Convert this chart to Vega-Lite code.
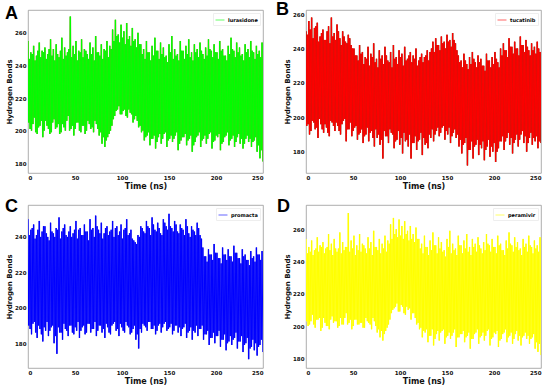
{
"$schema":"https://vega.github.io/schema/vega-lite/v6.json",
"padding":{"left":4,"top":0,"right":0,"bottom":0},
"config":{
 "view":{"stroke":"#999","strokeWidth":0.8},
 "axis":{"labelFont":"DejaVu Sans","labelFontWeight":"bold","labelFontSize":5.5,"titleFont":"DejaVu Sans","titleFontWeight":"bold","grid":false,"domain":false,"ticks":false,"labelColor":"#111","titleColor":"#111","labelPadding":2},
 "axisY":{"titleFontSize":7,"titlePadding":2},
 "axisX":{"titleFontSize":8,"titlePadding":2},
 "legend":{"orient":"top-right","offset":3,"padding":2,"fillColor":"white","strokeColor":"#eee","labelFont":"DejaVu Sans","labelFontWeight":"bold","labelFontSize":5,"symbolType":"stroke","symbolSize":80,"symbolStrokeWidth":1,"symbolOpacity":0.6,"labelOffset":3},
 "title":{"font":"Liberation Sans","fontSize":18,"fontWeight":"bold","anchor":"start","frame":"group","color":"#000"}
},
"datasets":{"hb":[
{"t":0,"a":255,"b":250,"c":250,"d":254},{"t":0.75,"a":205,"b":195,"c":190,"d":203},{"t":1.5,"a":244,"b":248,"c":241,"d":245},{"t":2.25,"a":201,"b":196,"c":188,"d":200},
{"t":3,"a":248,"b":256,"c":244,"d":249},{"t":3.75,"a":200,"b":190,"c":185,"d":201},{"t":4.5,"a":247,"b":251,"c":245,"d":246},{"t":5.25,"a":204,"b":192,"c":191,"d":203},
{"t":6,"a":252,"b":258,"c":247,"d":253},{"t":6.75,"a":208,"b":198,"c":192,"d":207},{"t":7.5,"a":243,"b":246,"c":239,"d":244},{"t":8.25,"a":199,"b":197,"c":186,"d":201},
{"t":9,"a":246,"b":252,"c":241,"d":247},{"t":9.75,"a":198,"b":193,"c":183,"d":199},{"t":10.5,"a":249,"b":253,"c":244,"d":248},{"t":11.25,"a":202,"b":194,"c":190,"d":204},
{"t":12,"a":254,"b":255,"c":249,"d":255},{"t":12.75,"a":203,"b":188,"c":188,"d":204},{"t":13.5,"a":245,"b":244,"c":240,"d":246},{"t":14.25,"a":206,"b":199,"c":185,"d":205},
{"t":15,"a":249,"b":247,"c":243,"d":250},{"t":15.75,"a":196,"b":196,"c":181,"d":197},{"t":16.5,"a":248,"b":249,"c":246,"d":249},{"t":17.25,"a":200,"b":193,"c":189,"d":199},
{"t":18,"a":251,"b":251,"c":246,"d":252},{"t":18.75,"a":206,"b":191,"c":187,"d":205},{"t":19.5,"a":244,"b":245,"c":242,"d":245},{"t":20.25,"a":203,"b":196,"c":192,"d":202},
{"t":21,"a":247,"b":245,"c":240,"d":248},{"t":21.75,"a":201,"b":194,"c":184,"d":200},{"t":22.5,"a":250,"b":250,"c":238,"d":249},{"t":23.25,"a":198,"b":191,"c":187,"d":200},
{"t":24,"a":256,"b":253,"c":248,"d":257},{"t":24.75,"a":199,"b":189,"c":189,"d":198},{"t":25.5,"a":246,"b":243,"c":243,"d":247},{"t":26.25,"a":205,"b":198,"c":190,"d":204},
{"t":27,"a":250,"b":258,"c":242,"d":251},{"t":27.75,"a":207,"b":197,"c":180,"d":206},{"t":28.5,"a":243,"b":247,"c":240,"d":244},{"t":29.25,"a":201,"b":195,"c":184,"d":202},
{"t":30,"a":253,"b":249,"c":245,"d":254},{"t":30.75,"a":202,"b":192,"c":174,"d":203},{"t":31.5,"a":247,"b":245,"c":244,"d":248},{"t":32.25,"a":204,"b":197,"c":189,"d":203},
{"t":33,"a":245,"b":254,"c":251,"d":246},{"t":33.75,"a":198,"b":195,"c":186,"d":199},{"t":34.5,"a":249,"b":250,"c":239,"d":248},{"t":35.25,"a":199,"b":192,"c":186,"d":200},
{"t":36,"a":257,"b":246,"c":243,"d":258},{"t":36.75,"a":204,"b":190,"c":182,"d":205},{"t":37.5,"a":244,"b":242,"c":245,"d":245},{"t":38.25,"a":202,"b":196,"c":191,"d":201},
{"t":39,"a":251,"b":250,"c":247,"d":252},{"t":39.75,"a":200,"b":198,"c":188,"d":201},{"t":40.5,"a":246,"b":247,"c":241,"d":247},{"t":41.25,"a":206,"b":199,"c":187,"d":205},
{"t":42,"a":248,"b":244,"c":240,"d":249},{"t":42.75,"a":209,"b":186,"c":184,"d":208},{"t":43.5,"a":250,"b":243,"c":243,"d":249},{"t":44.25,"a":200,"b":193,"c":190,"d":201},
{"t":45,"a":270,"b":248,"c":246,"d":270},{"t":45.75,"a":201,"b":193,"c":190,"d":202},{"t":46.5,"a":245,"b":246,"c":240,"d":246},{"t":47.25,"a":203,"b":197,"c":186,"d":204},
{"t":48,"a":252,"b":242,"c":242,"d":253},{"t":48.75,"a":197,"b":189,"c":185,"d":198},{"t":49.5,"a":247,"b":240,"c":244,"d":248},{"t":50.25,"a":201,"b":192,"c":189,"d":200},
{"t":51,"a":255,"b":240,"c":249,"d":256},{"t":51.75,"a":205,"b":194,"c":187,"d":204},{"t":52.5,"a":243,"b":236,"c":239,"d":244},{"t":53.25,"a":205,"b":195,"c":192,"d":204},
{"t":54,"a":249,"b":236,"c":244,"d":250},{"t":54.75,"a":200,"b":187,"c":183,"d":201},{"t":55.5,"a":248,"b":233,"c":245,"d":247},{"t":56.25,"a":199,"b":190,"c":187,"d":201},
{"t":57,"a":256,"b":242,"c":241,"d":257},{"t":57.75,"a":203,"b":191,"c":189,"d":202},{"t":58.5,"a":245,"b":237,"c":241,"d":246},{"t":59.25,"a":203,"b":193,"c":190,"d":202},
{"t":60,"a":250,"b":238,"c":247,"d":251},{"t":60.75,"a":198,"b":185,"c":185,"d":199},{"t":61.5,"a":249,"b":231,"c":243,"d":250},{"t":62.25,"a":200,"b":189,"c":186,"d":199},
{"t":63,"a":247,"b":235,"c":243,"d":248},{"t":63.75,"a":206,"b":190,"c":191,"d":205},{"t":64.5,"a":244,"b":234,"c":238,"d":245},{"t":65.25,"a":204,"b":194,"c":191,"d":203},
{"t":66,"a":254,"b":241,"c":250,"d":255},{"t":66.75,"a":201,"b":186,"c":186,"d":202},{"t":67.5,"a":247,"b":230,"c":244,"d":248},{"t":68.25,"a":202,"b":191,"c":188,"d":201},
{"t":69,"a":251,"b":237,"c":245,"d":252},{"t":69.75,"a":199,"b":192,"c":188,"d":198},{"t":70.5,"a":243,"b":235,"c":240,"d":244},{"t":71.25,"a":206,"b":188,"c":192,"d":205},
{"t":72,"a":258,"b":243,"c":252,"d":259},{"t":72.75,"a":204,"b":183,"c":184,"d":203},{"t":73.5,"a":248,"b":232,"c":246,"d":249},{"t":74.25,"a":201,"b":193,"c":187,"d":200},
{"t":75,"a":248,"b":234,"c":244,"d":249},{"t":75.75,"a":197,"b":188,"c":190,"d":196},{"t":76.5,"a":246,"b":229,"c":242,"d":247},{"t":77.25,"a":199,"b":190,"c":190,"d":198},
{"t":78,"a":253,"b":239,"c":248,"d":254},{"t":78.75,"a":192,"b":184,"c":186,"d":193},{"t":79.5,"a":244,"b":234,"c":239,"d":245},{"t":80.25,"a":196,"b":187,"c":188,"d":197},
{"t":81,"a":250,"b":236,"c":242,"d":251},{"t":81.75,"a":190,"b":176,"c":183,"d":191},{"t":82.5,"a":249,"b":231,"c":245,"d":248},{"t":83.25,"a":194,"b":192,"c":191,"d":195},
{"t":84,"a":255,"b":241,"c":246,"d":256},{"t":84.75,"a":196,"b":189,"c":189,"d":197},{"t":85.5,"a":245,"b":236,"c":241,"d":246},{"t":86.25,"a":198,"b":189,"c":186,"d":199},
{"t":87,"a":252,"b":233,"c":243,"d":253},{"t":87.75,"a":200,"b":185,"c":185,"d":201},{"t":88.5,"a":250,"b":232,"c":244,"d":251},{"t":89.25,"a":203,"b":193,"c":190,"d":204},
{"t":90,"a":262,"b":238,"c":249,"d":263},{"t":90.75,"a":207,"b":191,"c":191,"d":208},{"t":91.5,"a":255,"b":229,"c":240,"d":254},{"t":92.25,"a":209,"b":190,"c":192,"d":210},
{"t":93,"a":268,"b":242,"c":245,"d":267},{"t":93.75,"a":212,"b":182,"c":187,"d":211},{"t":94.5,"a":258,"b":234,"c":246,"d":257},{"t":95.25,"a":213,"b":186,"c":188,"d":212},
{"t":96,"a":259,"b":235,"c":241,"d":260},{"t":96.75,"a":215,"b":187,"c":184,"d":214},{"t":97.5,"a":254,"b":231,"c":243,"d":255},{"t":98.25,"a":210,"b":192,"c":191,"d":209},
{"t":99,"a":265,"b":239,"c":247,"d":266},{"t":99.75,"a":210,"b":184,"c":189,"d":209},{"t":100.5,"a":257,"b":235,"c":239,"d":256},{"t":101.25,"a":212,"b":188,"c":187,"d":213},
{"t":102,"a":261,"b":237,"c":244,"d":262},{"t":102.75,"a":213,"b":179,"c":186,"d":212},{"t":103.5,"a":253,"b":230,"c":245,"d":254},{"t":104.25,"a":209,"b":191,"c":192,"d":208},
{"t":105,"a":266,"b":241,"c":250,"d":265},{"t":105.75,"a":208,"b":186,"c":190,"d":207},{"t":106.5,"a":256,"b":233,"c":241,"d":257},{"t":107.25,"a":213,"b":187,"c":189,"d":212},
{"t":108,"a":258,"b":234,"c":242,"d":259},{"t":108.75,"a":211,"b":183,"c":185,"d":210},{"t":109.5,"a":252,"b":236,"c":244,"d":253},{"t":110.25,"a":210,"b":190,"c":186,"d":211},
{"t":111,"a":263,"b":238,"c":239,"d":262},{"t":111.75,"a":205,"b":176,"c":188,"d":204},{"t":112.5,"a":255,"b":232,"c":238,"d":254},{"t":113.25,"a":207,"b":185,"c":190,"d":208},
{"t":114,"a":256,"b":236,"c":237,"d":257},{"t":114.75,"a":209,"b":185,"c":182,"d":208},{"t":115.5,"a":251,"b":234,"c":236,"d":252},{"t":116.25,"a":206,"b":189,"c":185,"d":205},
{"t":117,"a":260,"b":240,"c":241,"d":261},{"t":117.75,"a":202,"b":181,"c":177,"d":201},{"t":118.5,"a":253,"b":230,"c":240,"d":254},{"t":119.25,"a":203,"b":186,"c":188,"d":202},
{"t":120,"a":253,"b":233,"c":246,"d":254},{"t":120.75,"a":199,"b":187,"c":186,"d":198},{"t":121.5,"a":247,"b":235,"c":245,"d":248},{"t":122.25,"a":200,"b":191,"c":191,"d":199},
{"t":123,"a":250,"b":237,"c":243,"d":251},{"t":123.75,"a":194,"b":178,"c":190,"d":193},{"t":124.5,"a":244,"b":232,"c":242,"d":245},{"t":125.25,"a":196,"b":188,"c":189,"d":197},
{"t":126,"a":255,"b":235,"c":249,"d":256},{"t":126.75,"a":197,"b":184,"c":187,"d":196},{"t":127.5,"a":248,"b":236,"c":246,"d":249},{"t":128.25,"a":199,"b":185,"c":192,"d":198},
{"t":129,"a":248,"b":239,"c":245,"d":249},{"t":129.75,"a":191,"b":182,"c":192,"d":190},{"t":130.5,"a":243,"b":233,"c":241,"d":244},{"t":131.25,"a":195,"b":190,"c":188,"d":194},
{"t":132,"a":252,"b":238,"c":251,"d":253},{"t":132.75,"a":195,"b":188,"c":188,"d":194},{"t":133.5,"a":246,"b":240,"c":247,"d":247},{"t":134.25,"a":197,"b":193,"c":190,"d":198},
{"t":135,"a":257,"b":244,"c":244,"d":258},{"t":135.75,"a":189,"b":186,"c":185,"d":188},{"t":136.5,"a":249,"b":238,"c":243,"d":250},{"t":137.25,"a":193,"b":190,"c":187,"d":192},
{"t":138,"a":249,"b":246,"c":248,"d":250},{"t":138.75,"a":196,"b":192,"c":190,"d":195},{"t":139.5,"a":244,"b":242,"c":245,"d":245},{"t":140.25,"a":198,"b":194,"c":191,"d":197},
{"t":141,"a":254,"b":242,"c":242,"d":255},{"t":141.75,"a":192,"b":189,"c":186,"d":191},{"t":142.5,"a":247,"b":239,"c":241,"d":248},{"t":143.25,"a":195,"b":191,"c":189,"d":196},
{"t":144,"a":251,"b":247,"c":250,"d":252},{"t":144.75,"a":198,"b":194,"c":191,"d":197},{"t":145.5,"a":245,"b":243,"c":248,"d":246},{"t":146.25,"a":199,"b":195,"c":192,"d":198},
{"t":147,"a":246,"b":244,"c":246,"d":247},{"t":147.75,"a":190,"b":187,"c":187,"d":189},{"t":148.5,"a":242,"b":240,"c":244,"d":243},{"t":149.25,"a":194,"b":192,"c":188,"d":193},
{"t":150,"a":253,"b":248,"c":253,"d":254},{"t":150.75,"a":195,"b":190,"c":189,"d":194},{"t":151.5,"a":248,"b":244,"c":246,"d":249},{"t":152.25,"a":197,"b":194,"c":191,"d":196},
{"t":153,"a":258,"b":245,"c":245,"d":259},{"t":153.75,"a":193,"b":185,"c":185,"d":192},{"t":154.5,"a":244,"b":241,"c":243,"d":245},{"t":155.25,"a":195,"b":189,"c":187,"d":194},
{"t":156,"a":250,"b":249,"c":249,"d":251},{"t":156.75,"a":197,"b":191,"c":190,"d":196},{"t":157.5,"a":246,"b":245,"c":247,"d":247},{"t":158.25,"a":199,"b":193,"c":190,"d":198},
{"t":159,"a":247,"b":243,"c":243,"d":248},{"t":159.75,"a":188,"b":188,"c":186,"d":187},{"t":160.5,"a":243,"b":239,"c":242,"d":244},{"t":161.25,"a":192,"b":190,"c":189,"d":193},
{"t":162,"a":255,"b":236,"c":247,"d":256},{"t":162.75,"a":194,"b":183,"c":184,"d":193},{"t":163.5,"a":249,"b":232,"c":245,"d":250},{"t":164.25,"a":196,"b":187,"c":188,"d":195},
{"t":165,"a":249,"b":233,"c":244,"d":250},{"t":165.75,"a":196,"b":179,"c":189,"d":195},{"t":166.5,"a":244,"b":229,"c":241,"d":245},{"t":167.25,"a":198,"b":184,"c":191,"d":197},
{"t":168,"a":252,"b":237,"c":250,"d":253},{"t":168.75,"a":191,"b":185,"c":183,"d":190},{"t":169.5,"a":247,"b":233,"c":246,"d":248},{"t":170.25,"a":194,"b":188,"c":186,"d":193},
{"t":171,"a":256,"b":231,"c":242,"d":257},{"t":171.75,"a":195,"b":172,"c":187,"d":194},{"t":172.5,"a":245,"b":228,"c":240,"d":246},{"t":173.25,"a":197,"b":181,"c":189,"d":196},
{"t":174,"a":248,"b":235,"c":246,"d":249},{"t":174.75,"a":187,"b":181,"c":182,"d":186},{"t":175.5,"a":243,"b":231,"c":244,"d":244},{"t":176.25,"a":191,"b":186,"c":187,"d":192},
{"t":177,"a":253,"b":238,"c":243,"d":254},{"t":177.75,"a":193,"b":176,"c":186,"d":192},{"t":178.5,"a":248,"b":234,"c":241,"d":249},{"t":179.25,"a":196,"b":183,"c":190,"d":195},
{"t":180,"a":250,"b":232,"c":248,"d":251},{"t":180.75,"a":197,"b":184,"c":184,"d":196},{"t":181.5,"a":245,"b":229,"c":245,"d":246},{"t":182.25,"a":199,"b":187,"c":188,"d":198},
{"t":183,"a":254,"b":236,"c":241,"d":255},{"t":183.75,"a":190,"b":178,"c":188,"d":189},{"t":184.5,"a":249,"b":232,"c":239,"d":250},{"t":185.25,"a":194,"b":184,"c":190,"d":193},
{"t":186,"a":247,"b":234,"c":234,"d":248},{"t":186.75,"a":195,"b":182,"c":182,"d":194},{"t":187.5,"a":244,"b":230,"c":229,"d":245},{"t":188.25,"a":197,"b":186,"c":185,"d":196},
{"t":189,"a":251,"b":230,"c":229,"d":252},{"t":189.75,"a":192,"b":175,"c":185,"d":191},{"t":190.5,"a":246,"b":227,"c":226,"d":247},{"t":191.25,"a":195,"b":181,"c":187,"d":194},
{"t":192,"a":256,"b":237,"c":233,"d":257},{"t":192.75,"a":198,"b":183,"c":179,"d":197},{"t":193.5,"a":250,"b":233,"c":230,"d":251},{"t":194.25,"a":199,"b":187,"c":183,"d":198},
{"t":195,"a":249,"b":233,"c":230,"d":250},{"t":195.75,"a":189,"b":177,"c":183,"d":188},{"t":196.5,"a":245,"b":229,"c":227,"d":246},{"t":197.25,"a":193,"b":183,"c":186,"d":192},
{"t":198,"a":253,"b":235,"c":236,"d":254},{"t":198.75,"a":194,"b":180,"c":180,"d":193},{"t":199.5,"a":248,"b":231,"c":231,"d":249},{"t":200.25,"a":197,"b":185,"c":184,"d":196},
{"t":201,"a":248,"b":238,"c":231,"d":249},{"t":201.75,"a":196,"b":174,"c":184,"d":195},{"t":202.5,"a":244,"b":234,"c":228,"d":245},{"t":203.25,"a":198,"b":180,"c":187,"d":197},
{"t":204,"a":255,"b":232,"c":228,"d":256},{"t":204.75,"a":188,"b":182,"c":178,"d":187},{"t":205.5,"a":249,"b":229,"c":225,"d":250},{"t":206.25,"a":192,"b":186,"c":182,"d":191},
{"t":207,"a":250,"b":240,"c":234,"d":251},{"t":207.75,"a":193,"b":186,"c":182,"d":192},{"t":208.5,"a":246,"b":236,"c":230,"d":247},{"t":209.25,"a":196,"b":189,"c":185,"d":195},
{"t":210,"a":246,"b":243,"c":230,"d":247},{"t":210.75,"a":197,"b":181,"c":176,"d":196},{"t":211.5,"a":243,"b":239,"c":227,"d":244},{"t":212.25,"a":199,"b":186,"c":180,"d":198},
{"t":213,"a":252,"b":239,"c":233,"d":253},{"t":213.75,"a":191,"b":188,"c":181,"d":190},{"t":214.5,"a":247,"b":235,"c":229,"d":248},{"t":215.25,"a":194,"b":191,"c":184,"d":193},
{"t":216,"a":257,"b":246,"c":229,"d":258},{"t":216.75,"a":195,"b":184,"c":179,"d":194},{"t":217.5,"a":250,"b":241,"c":226,"d":251},{"t":218.25,"a":197,"b":188,"c":182,"d":196},
{"t":219,"a":249,"b":241,"c":235,"d":250},{"t":219.75,"a":190,"b":179,"c":183,"d":189},{"t":220.5,"a":245,"b":237,"c":231,"d":246},{"t":221.25,"a":193,"b":185,"c":186,"d":192},
{"t":222,"a":254,"b":244,"c":231,"d":255},{"t":222.75,"a":196,"b":187,"c":177,"d":195},{"t":223.5,"a":248,"b":240,"c":228,"d":249},{"t":224.25,"a":198,"b":190,"c":181,"d":197},
{"t":225,"a":251,"b":240,"c":228,"d":252},{"t":225.75,"a":192,"b":183,"c":181,"d":191},{"t":226.5,"a":246,"b":236,"c":225,"d":247},{"t":227.25,"a":195,"b":187,"c":184,"d":194},
{"t":228,"a":247,"b":247,"c":233,"d":248},{"t":228.75,"a":189,"b":190,"c":175,"d":188},{"t":229.5,"a":243,"b":242,"c":229,"d":244},{"t":230.25,"a":192,"b":192,"c":179,"d":193},
{"t":231,"a":253,"b":242,"c":230,"d":254},{"t":231.75,"a":195,"b":185,"c":180,"d":194},{"t":232.5,"a":248,"b":238,"c":227,"d":249},{"t":233.25,"a":197,"b":189,"c":183,"d":196},
{"t":234,"a":250,"b":245,"c":227,"d":251},{"t":234.75,"a":193,"b":180,"c":171,"d":192},{"t":235.5,"a":245,"b":241,"c":224,"d":246},{"t":236.25,"a":195,"b":185,"c":177,"d":194},
{"t":237,"a":255,"b":239,"c":232,"d":256},{"t":237.75,"a":190,"b":188,"c":178,"d":189},{"t":238.5,"a":249,"b":236,"c":228,"d":250},{"t":239.25,"a":193,"b":191,"c":182,"d":192},
{"t":240,"a":248,"b":243,"c":229,"d":249},{"t":240.75,"a":194,"b":184,"c":176,"d":193},{"t":241.5,"a":244,"b":239,"c":226,"d":245},{"t":242.25,"a":196,"b":188,"c":180,"d":195},
{"t":243,"a":252,"b":241,"c":234,"d":253},{"t":243.75,"a":187,"b":186,"c":173,"d":186},{"t":244.5,"a":247,"b":237,"c":230,"d":248},{"t":245.25,"a":191,"b":189,"c":178,"d":190},
{"t":246,"a":249,"b":244,"c":230,"d":250},{"t":246.75,"a":183,"b":182,"c":179,"d":184},{"t":247.5,"a":245,"b":240,"c":227,"d":246},{"t":248.25,"a":188,"b":186,"c":182,"d":189},
{"t":249,"a":254,"b":238,"c":232,"d":255},{"t":250,"a":181,"b":185,"c":175,"d":182}
]},
"columns":2,
"spacing":{"row":6,"column":11},
"resolve":{"scale":{"x":"independent","y":"independent","color":"independent"},"legend":{"color":"independent"}},
"concat":[
{"width":235,"height":163,"data":{"name":"hb"},
 "title":{"text":"A","offset":-13,"dx":-23},
 "encoding":{"x":{"field":"t","type":"quantitative","scale":{"domain":[0,250],"nice":false},"axis":{"values":[0,50,100,150,200,250],"title":"Time (ns)"}},
  "y":{"field":"a","type":"quantitative","scale":{"domain":[174,274],"nice":false,"zero":false},"axis":{"values":[180,200,220,240,260],"title":"Hydrogen Bonds"}}},
 "layer":[
  {"mark":{"type":"line","color":"#8f9b2c","strokeWidth":1.6,"clip":true}},
  {"mark":{"type":"line","strokeWidth":1,"clip":true},"encoding":{"color":{"datum":"lurasidone","scale":{"domain":["lurasidone"],"range":["#00ff00"]},"legend":{"title":null}}}}
 ]},
{"width":235,"height":163,"data":{"name":"hb"},
 "title":{"text":"B","offset":-9,"dx":-30},
 "encoding":{"x":{"field":"t","type":"quantitative","scale":{"domain":[0,250],"nice":false},"axis":{"values":[0,50,100,150,200,250],"title":"Time (ns)"}},
  "y":{"field":"b","type":"quantitative","scale":{"domain":[167.6,262.4],"nice":false,"zero":false},"axis":{"values":[180,200,220,240,260],"title":"Hydrogen Bonds"}}},
 "layer":[
  {"mark":{"type":"line","color":"#7a3b1e","strokeWidth":1.6,"clip":true}},
  {"mark":{"type":"line","strokeWidth":1,"clip":true},"encoding":{"color":{"datum":"tucatinib","scale":{"domain":["tucatinib"],"range":["#ff0000"]},"legend":{"title":null}}}}
 ]},
{"width":235,"height":163,"data":{"name":"hb"},
 "title":{"text":"C","offset":-11,"dx":-23},
 "encoding":{"x":{"field":"t","type":"quantitative","scale":{"domain":[0,250],"nice":false},"axis":{"values":[0,50,100,150,200,250],"title":"Time (ns)"}},
  "y":{"field":"c","type":"quantitative","scale":{"domain":[166,258],"nice":false,"zero":false},"axis":{"values":[180,200,220,240],"title":"Hydrogen Bonds"}}},
 "layer":[
  {"mark":{"type":"line","color":"#7b7bea","strokeWidth":1.6,"clip":true}},
  {"mark":{"type":"line","strokeWidth":1,"clip":true},"encoding":{"color":{"datum":"promacta","scale":{"domain":["promacta"],"range":["#0000ff"]},"legend":{"title":null}}}}
 ]},
{"width":235,"height":163,"data":{"name":"hb"},
 "title":{"text":"D","offset":-11,"dx":-29},
 "encoding":{"x":{"field":"t","type":"quantitative","scale":{"domain":[0,250],"nice":false},"axis":{"values":[0,50,100,150,200,250],"title":"Time (ns)"}},
  "y":{"field":"d","type":"quantitative","scale":{"domain":[174,275],"nice":false,"zero":false},"axis":{"values":[180,200,220,240,260],"title":"Hydrogen Bonds"}}},
 "layer":[
  {"mark":{"type":"line","color":"#ffff80","strokeWidth":1.6,"clip":true}},
  {"mark":{"type":"line","strokeWidth":1,"clip":true},"encoding":{"color":{"datum":"peramivir","scale":{"domain":["peramivir"],"range":["#ffff00"]},"legend":{"title":null}}}}
 ]}
]
}
